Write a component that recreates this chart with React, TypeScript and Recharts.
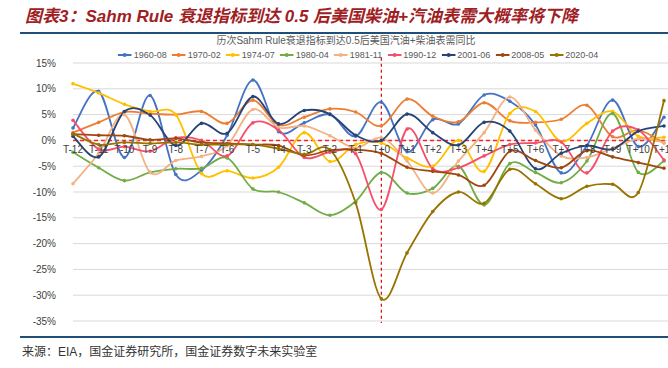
import React from 'react';
import { LineChart, Line, YAxis, XAxis, CartesianGrid, ReferenceLine, LabelList } from 'recharts';

const categories = ['T-12','T-11','T-10','T-9','T-8','T-7','T-6','T-5','T-4','T-3','T-2','T-1','T+0','T+1','T+2','T+3','T+4','T+5','T+6','T+7','T+8','T+9','T+10','T+11'];

const s1960 = [2.4, 9.5, -3.3, 8.7, -6.6, -5.8, 1.0, 11.7, 1.7, 3.4, 5.0, 0.8, 7.4, -2.2, 4.0, 3.2, 8.8, 7.6, 3.0, -6.3, -1.0, 7.8, -1.2, 4.5];
const s1970 = [1.5, 3.5, 5.5, 5.2, 5.0, 5.6, 3.3, 7.8, 3.0, 4.5, 6.1, 5.5, 2.8, 8.0, 4.7, 3.6, 7.3, 3.8, 3.5, 4.1, 6.8, 0.7, 2.0, -0.5];
const s1974 = [11.0, 9.2, 7.0, 5.6, 5.0, -6.4, -5.9, -7.3, -5.2, 1.5, -4.1, -0.8, -0.5, -3.4, -5.0, 0.0, -6.0, 5.2, 5.6, -0.2, 3.3, 5.6, 0.8, 0.6];
const s1980 = [-2.3, -5.3, -7.8, -6.2, -5.5, -5.4, -3.4, -9.4, -10.0, -12.1, -14.5, -11.8, -6.2, -10.2, -9.3, -5.0, -12.5, -4.5, -6.2, -8.2, -4.0, 5.2, -6.2, -4.0];
const s1981 = [-8.4, -2.5, 5.0, -6.2, -3.9, -3.1, -1.0, 6.0, 2.5, 2.8, 0.9, -1.5, 0.5, -4.0, -10.2, -4.0, 1.5, 8.4, 2.0, -3.0, -3.3, -1.5, 0.3, -0.4];
const s1990 = [3.9, -1.7, -1.2, -2.1, 0.5, 0.0, -3.0, 3.4, 2.0, -3.3, -2.3, -2.6, -13.4, 2.2, -5.5, -5.3, -3.0, -0.8, -0.5, -0.3, -6.3, 1.8, 2.0, -3.8];
const s2001 = [0.8, -3.2, 5.6, 4.9, -1.0, 3.3, 1.4, 8.5, 3.2, 5.8, 5.1, 1.0, 0.0, 5.1, 1.5, -0.9, 3.5, 1.8, -5.5, -2.5, -1.0, -1.7, 1.8, 2.8];
const s2008 = [1.2, 1.0, 0.9, 0.1, 0.4, -0.4, -0.6, -0.8, -1.0, -2.9, -1.9, -1.8, -2.5, -5.2, -6.0, -6.7, -8.7, -2.1, -3.9, -5.3, -2.0, -3.2, -4.3, -5.4];
const s2020 = [1.3, -0.8, -0.4, -0.6, -0.4, -0.8, -0.8, -0.8, -1.6, -2.7, -1.8, -12.1, -30.7, -21.8, -13.8, -10.0, -12.2, -5.6, -8.4, -11.3, -8.9, -8.5, -10.1, 7.7];

const seriesNames = ['1960-08','1970-02','1974-07','1980-04','1981-11','1990-12','2001-06','2008-05','2020-04'];
const seriesValues = [s1960, s1970, s1974, s1980, s1981, s1990, s2001, s2008, s2020];
const seriesColors = ['#4472C4','#ED7D31','#FFC000','#70AD47','#F4B183','#F5506B','#264478','#9E480E','#997300'];

const yTicks = [15, 10, 5, 0, -5, -10, -15, -20, -25, -30, -35];

const titleText = '图表3：Sahm Rule 衰退指标到达 0.5 后美国柴油+汽油表需大概率将下降';
const subtitleText = '历次Sahm Rule衰退指标到达0.5后美国汽油+柴油表需同比';
const sourceText = '来源：EIA，国金证券研究所，国金证券数字未来实验室';

const data = categories.map((c, i) => {
  const row: any = { cat: c, zero: 0 };
  seriesNames.forEach((n, k) => { row[n] = seriesValues[k][i]; });
  return row;
});

// Catmull-Rom style smoothing (similar to spreadsheet smoothed lines)
function smoothCurve(context: any) {
  let pts: number[][] = [];
  return {
    areaStart() {},
    areaEnd() {},
    lineStart() { pts = []; },
    point(x: number, y: number) { pts.push([+x, +y]); },
    lineEnd() {
      const n = pts.length;
      if (!n) return;
      context.moveTo(pts[0][0], pts[0][1]);
      const t = 1 / 6;
      for (let i = 0; i < n - 1; i++) {
        const p0 = pts[i - 1] || pts[i];
        const p1 = pts[i];
        const p2 = pts[i + 1];
        const p3 = pts[i + 2] || p2;
        context.bezierCurveTo(
          p1[0] + (p2[0] - p0[0]) * t, p1[1] + (p2[1] - p0[1]) * t,
          p2[0] - (p3[0] - p1[0]) * t, p2[1] - (p3[1] - p1[1]) * t,
          p2[0], p2[1]
        );
      }
    },
  };
}

const FONT = '"Liberation Sans", Arial, "Noto Sans CJK SC", sans-serif';

export default function App() {
  return (
    <div style={{ position: 'absolute', left: 0, top: 0, width: 668, height: 368, overflow: 'hidden', background: '#fff', fontFamily: FONT }}>
      <div style={{ position: 'absolute', left: 25, top: 6, fontSize: 17, fontWeight: 'bold', fontStyle: 'italic', color: '#A0201F', whiteSpace: 'nowrap', lineHeight: '22px' }}>
        {titleText}
      </div>
      <div style={{ position: 'absolute', left: 20, top: 32, width: 660, height: 2, background: '#1F4E79' }} />
      <div style={{ position: 'absolute', left: 346, top: 35, transform: 'translateX(-50%)', fontSize: 10, color: '#595959', whiteSpace: 'nowrap', lineHeight: '12px' }}>
        {subtitleText}
      </div>
      <div style={{ position: 'absolute', left: 358, top: 49, transform: 'translateX(-50%)', display: 'flex', whiteSpace: 'nowrap', fontSize: 9, color: '#595959', lineHeight: '12px' }}>
        {seriesNames.map((n, k) => (
          <div key={n} style={{ display: 'flex', alignItems: 'center', marginRight: k < seriesNames.length - 1 ? 5 : 0 }}>
            <svg width={14} height={8} style={{ marginRight: 2 }}>
              <line x1={0} y1={4} x2={14} y2={4} stroke={seriesColors[k]} strokeWidth={1.8} />
              <circle cx={7} cy={4} r={2} fill={seriesColors[k]} />
            </svg>
            <span>{n}</span>
          </div>
        ))}
      </div>
      <div style={{ position: 'absolute', left: 0, top: 0 }}>
        <LineChart width={700} height={340} data={data} margin={{ top: 63, right: 10, bottom: 19, left: 0 }}>
          <CartesianGrid horizontal vertical={false} stroke="#D9D9D9" />
          <XAxis dataKey="cat" hide padding={{ left: 0, right: 26 }} />
          <YAxis
            domain={[-35, 15]}
            ticks={yTicks}
            interval={0}
            width={73}
            axisLine={false}
            tickLine={false}
            tickSize={0}
            tickMargin={17}
            tickFormatter={(v: number) => `${v}%`}
            tick={{ fontSize: 10, fill: '#404040', fontFamily: FONT }}
          />
          <ReferenceLine y={0} stroke="#FF2020" strokeDasharray="4 3" strokeWidth={1.5} />
          <ReferenceLine
            segment={[{ x: 'T+0', y: 16 }, { x: 'T+0', y: -35.4 }]}
            stroke="#E00000"
            strokeDasharray="3 3"
            strokeWidth={1.2}
            ifOverflow="visible"
          />
          <Line dataKey="zero" stroke="none" dot={false} legendType="none" isAnimationActive={false} activeDot={false}>
            <LabelList dataKey="cat" position="bottom" offset={5} style={{ fontSize: 10, fill: '#404040', fontFamily: FONT }} />
          </Line>
          {seriesNames.map((n, k) => (
            <Line
              key={n}
              dataKey={n}
              type={smoothCurve as any}
              stroke={seriesColors[k]}
              strokeWidth={1.8}
              dot={{ r: 1.8, fill: seriesColors[k], stroke: seriesColors[k], strokeWidth: 0 }}
              activeDot={false}
              isAnimationActive={false}
            />
          ))}
        </LineChart>
      </div>
      <div style={{ position: 'absolute', left: 20, top: 336, width: 660, height: 2, background: '#1F4E79' }} />
      <div style={{ position: 'absolute', left: 22, top: 344, fontSize: 12, color: '#333', whiteSpace: 'nowrap', lineHeight: '16px' }}>
        {sourceText}
      </div>
    </div>
  );
}
